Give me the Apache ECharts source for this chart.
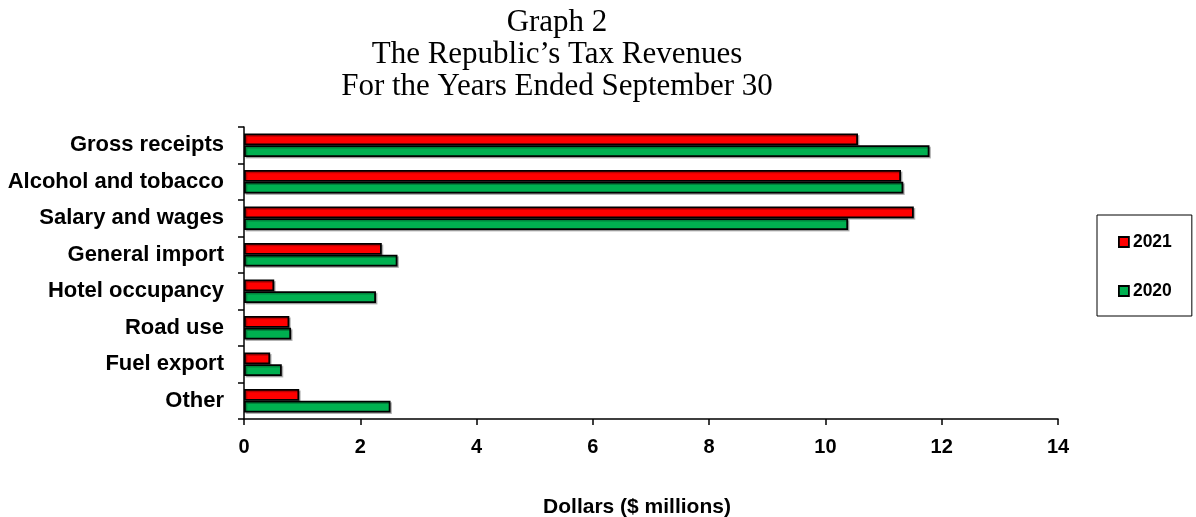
<!DOCTYPE html>
<html>
<head>
<meta charset="utf-8">
<title>The Republic's Tax Revenues</title>
<script src="https://cdn.jsdelivr.net/npm/echarts@6/dist/echarts.min.js"></script>
<style>
  html, body { margin: 0; padding: 0; background: #ffffff; }
  #chart { width: 1196px; height: 517px; }
</style>
</head>
<body>
<div id="chart"></div>
<script>
// Tax revenue categories, top to bottom
const categories = [
  'Gross receipts',
  'Alcohol and tobacco',
  'Salary and wages',
  'General import',
  'Hotel occupancy',
  'Road use',
  'Fuel export',
  'Other'
];

// Revenues in $ millions
const revenue2021 = [10.56, 11.30, 11.52, 2.37, 0.52, 0.78, 0.45, 0.95];
const revenue2020 = [11.79, 11.34, 10.39, 2.64, 2.27, 0.81, 0.65, 2.52];

const seriesNames = ['2021', '2020'];
const xTicks = { min: 0, max: 14, interval: 2 };

const sans = "'Liberation Sans', Arial, sans-serif";
const serif = "'Liberation Serif', 'Times New Roman', serif";

const barBorder = {
  borderColor: '#000000',
  borderWidth: 1.8,
  shadowColor: 'rgba(0,0,0,0.25)',
  shadowOffsetX: 1.5,
  shadowOffsetY: 1.5,
  shadowBlur: 0
};

const chart = echarts.init(document.getElementById('chart'), null, { renderer: 'canvas' });

chart.setOption({
  backgroundColor: '#ffffff',
  animation: false,
  title: [
    {
      text: 'Graph 2\nThe Republic\u2019s Tax Revenues\nFor the Years Ended September 30',
      left: 552,
      top: 2,
      textAlign: 'center',
      textStyle: {
        fontFamily: serif,
        fontWeight: 'normal',
        fontSize: 31,
        lineHeight: 32,
        color: '#000000'
      }
    },
    {
      text: 'Dollars ($ millions)',
      left: 632,
      top: 492,
      textAlign: 'center',
      textStyle: {
        fontFamily: sans,
        fontWeight: 'bold',
        fontSize: 21,
        color: '#000000'
      }
    }
  ],
  legend: {
    orient: 'vertical',
    left: 1097,
    top: 215,
    padding: [18, 20, 16, 21],
    itemGap: 31,
    itemWidth: 10,
    itemHeight: 10,
    icon: 'rect',
    borderColor: '#000000',
    borderWidth: 1,
    backgroundColor: '#ffffff',
    data: seriesNames,
    itemStyle: { borderColor: '#000000', borderWidth: 1.8, shadowBlur: 0, shadowOffsetX: 0, shadowOffsetY: 0 },
    textStyle: {
      fontFamily: sans,
      fontWeight: 'bold',
      fontSize: 17.5,
      color: '#000000',
      padding: [0, 0, 0, -1]
    }
  },
  grid: {
    left: 244,
    right: 138,
    top: 127,
    bottom: 98,
    containLabel: false
  },
  xAxis: {
    type: 'value',
    min: xTicks.min,
    max: xTicks.max,
    interval: xTicks.interval,
    axisLine: { show: true, lineStyle: { color: '#000000', width: 1.5 } },
    axisTick: { show: true, inside: false, length: 6, lineStyle: { color: '#000000', width: 1.5 } },
    splitLine: { show: false },
    axisLabel: {
      margin: 18,
      fontFamily: sans,
      fontWeight: 'bold',
      fontSize: 20,
      color: '#000000'
    }
  },
  yAxis: {
    type: 'category',
    data: categories,
    inverse: true,
    axisLine: { show: true, onZero: false, lineStyle: { color: '#000000', width: 1.5 } },
    axisTick: { show: true, inside: false, length: 6, lineStyle: { color: '#000000', width: 1.5 } },
    splitLine: { show: false },
    axisLabel: {
      margin: 20,
      fontFamily: sans,
      fontWeight: 'bold',
      fontSize: 22,
      color: '#000000'
    }
  },
  series: [
    {
      name: seriesNames[0],
      type: 'bar',
      data: revenue2021,
      barGap: '0%',
      barCategoryGap: '35%',
      itemStyle: Object.assign({ color: '#FF0000' }, barBorder)
    },
    {
      name: seriesNames[1],
      type: 'bar',
      data: revenue2020,
      barGap: '0%',
      barCategoryGap: '35%',
      itemStyle: Object.assign({ color: '#00B050' }, barBorder)
    }
  ]
});
</script>
</body>
</html>
